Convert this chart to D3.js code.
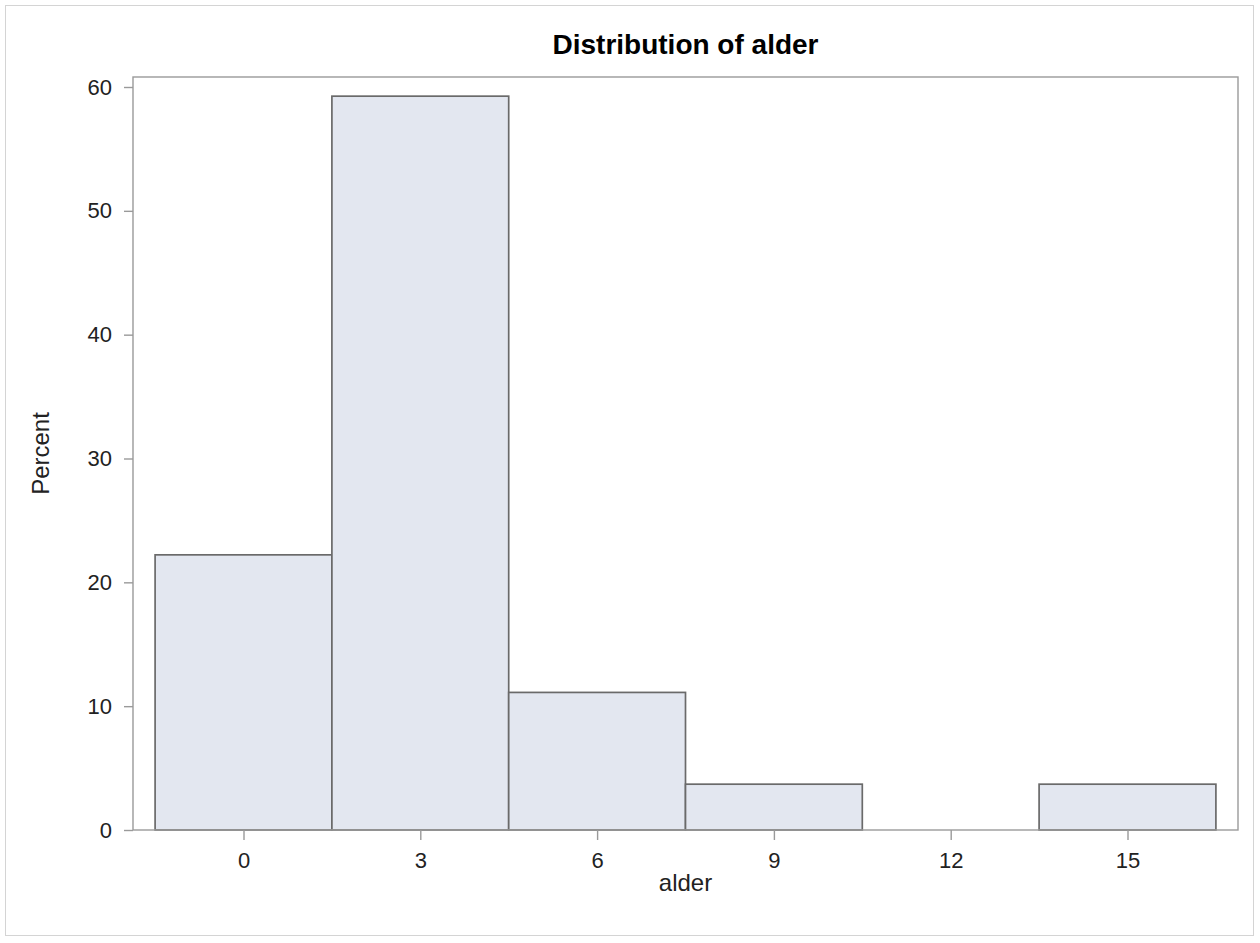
<!DOCTYPE html>
<html>
<head>
<meta charset="utf-8">
<script src="https://cdn.jsdelivr.net/npm/d3@7"></script>
<style>
  html, body { margin: 0; padding: 0; background: #fff; }
  svg { display: block; font-family: "Liberation Sans", Arial, sans-serif; }
</style>
</head>
<body>
<svg id="chart" width="1260" height="943"></svg>
<script>
// Histogram of alder: bin midpoints (width 3) and percent of observations
const binMidpoints = [0, 3, 6, 9, 12, 15];
const binWidth = 3;
const percents = [22.22, 59.26, 11.11, 3.70, 0, 3.70];
const xTicks = [0, 3, 6, 9, 12, 15];
const yTicks = [0, 10, 20, 30, 40, 50, 60];
const titleText = "Distribution of alder";
const xLabel = "alder";
const yLabel = "Percent";

const W = 1260, H = 943;
const frame = { left: 133, right: 1238, top: 77, bottom: 830 };

const svg = d3.select("#chart");

// Outer graph border
svg.append("rect")
  .attr("x", 5.5).attr("y", 5.5)
  .attr("width", W - 12).attr("height", H - 13)
  .attr("fill", "#fff").attr("stroke", "#d4d4d4").attr("stroke-width", 1);

const lo = binMidpoints[0] - binWidth / 2;
const hi = binMidpoints[binMidpoints.length - 1] + binWidth / 2;
const pad = 0.375;
const x = d3.scaleLinear().domain([lo - pad, hi + pad]).range([frame.left, frame.right]);
const y = d3.scaleLinear().domain([0, 60]).range([frame.bottom, frame.top + 10]);

// Bars
svg.append("g").selectAll("rect")
  .data(binMidpoints.map((m, i) => ({ m, v: percents[i] })))
  .join("rect")
  .attr("x", d => x(d.m - binWidth / 2))
  .attr("width", d => x(d.m + binWidth / 2) - x(d.m - binWidth / 2))
  .attr("y", d => y(d.v))
  .attr("height", d => y(0) - y(d.v))
  .attr("fill", "#e3e7f0")
  .attr("stroke", "#6a6a6a")
  .attr("stroke-width", 1.7);

// Plot frame
svg.append("rect")
  .attr("x", frame.left).attr("y", frame.top)
  .attr("width", frame.right - frame.left).attr("height", frame.bottom - frame.top)
  .attr("fill", "none").attr("stroke", "#9a9a9a").attr("stroke-width", 1.4);

// Axes
const yAxis = svg.append("g")
  .attr("transform", `translate(${frame.left},0)`)
  .call(d3.axisLeft(y).tickValues(yTicks).tickSize(9).tickPadding(12).tickFormat(d3.format("d")));
const xAxis = svg.append("g")
  .attr("transform", `translate(0,${frame.bottom})`)
  .call(d3.axisBottom(x).tickValues(xTicks).tickSize(10).tickPadding(12).tickFormat(d3.format("d")));

[yAxis, xAxis].forEach(g => {
  g.select(".domain").remove();
  g.selectAll(".tick line").attr("stroke", "#9a9a9a").attr("stroke-width", 1.4);
  g.selectAll(".tick text")
    .attr("fill", "#222")
    .style("font-size", "22px")
    .style("font-family", "'Liberation Sans', Arial, sans-serif");
});

// Title
svg.append("text")
  .attr("x", (frame.left + frame.right) / 2)
  .attr("y", 54)
  .attr("text-anchor", "middle")
  .attr("fill", "#000")
  .style("font-size", "28px")
  .style("font-weight", "bold")
  .text(titleText);

// Axis labels
svg.append("text")
  .attr("x", (frame.left + frame.right) / 2)
  .attr("y", 891)
  .attr("text-anchor", "middle")
  .attr("fill", "#222")
  .style("font-size", "24px")
  .text(xLabel);

svg.append("text")
  .attr("transform", `translate(49,${(frame.top + frame.bottom) / 2}) rotate(-90)`)
  .attr("text-anchor", "middle")
  .attr("fill", "#222")
  .style("font-size", "24px")
  .text(yLabel);
</script>
</body>
</html>
